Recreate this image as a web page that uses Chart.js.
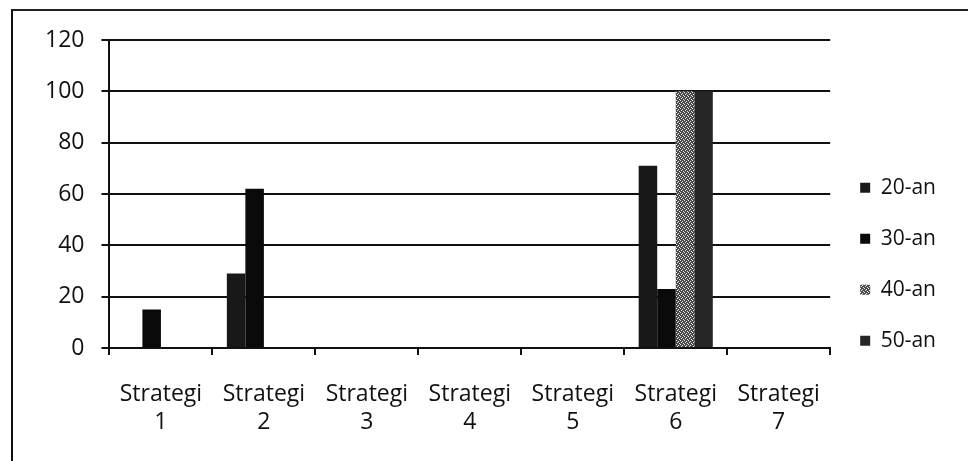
<!DOCTYPE html>
<html lang="id">
<head>
    <meta charset="UTF-8">
    <title>Grafik Strategi</title>
    <script src="https://cdn.jsdelivr.net/npm/chart.js"></script>
    <style>
        body{
            margin: 0;
            background: #ffffff;
        }
        #wrap{
            position: relative;
            width: 968px;
            height: 461px;
        }
        #frame{
            position: absolute;
            left: 11px;
            top: 9px;
            right: 0;
            bottom: 0;
            border-left: 2px solid #111;
            border-top: 2px solid #222;
            pointer-events: none;
        }
    </style>
</head>
<body>
    <div id="wrap">
        <canvas id="grafik" width="968" height="461"></canvas>
        <div id="frame"></div>
    </div>

    <script>
        // data
        const kategori = [
            ['Strategi', '1'], ['Strategi', '2'], ['Strategi', '3'], ['Strategi', '4'],
            ['Strategi', '5'], ['Strategi', '6'], ['Strategi', '7']
        ]
        const nilai20 = [0, 29, 0, 0, 0, 71, 0]
        const nilai30 = [15, 62, 0, 0, 0, 23, 0]
        const nilai40 = [0, 0, 0, 0, 0, 100, 0]
        const nilai50 = [0, 0, 0, 0, 0, 100, 0]
        const labelSeri = ['20-an', '30-an', '40-an', '50-an']
        const tickY = [0, 20, 40, 60, 80, 100, 120]

        // pola bintik abu-abu untuk 40-an
        const pc = document.createElement('canvas')
        pc.width = 4
        pc.height = 4
        const px = pc.getContext('2d')
        px.fillStyle = '#4a4a4a'
        px.fillRect(0, 0, 4, 4)
        px.fillStyle = '#e8e8e8'
        px.fillRect(0, 0, 1, 1)
        px.fillRect(2, 1, 1, 1)
        px.fillRect(1, 2, 1, 1)
        px.fillRect(3, 3, 1, 1)
        const pola40 = px.createPattern(pc, 'repeat')

        const font = "'Open Sans', 'DejaVu Sans', sans-serif"

        new Chart(document.getElementById('grafik'), {
            type: 'bar',
            data: {
                labels: kategori,
                datasets: [
                    { label: labelSeri[0], data: nilai20, backgroundColor: '#181818' },
                    { label: labelSeri[1], data: nilai30, backgroundColor: '#0a0a0a' },
                    { label: labelSeri[2], data: nilai40, backgroundColor: pola40 },
                    { label: labelSeri[3], data: nilai50, backgroundColor: '#262626' }
                ]
            },
            options: {
                responsive: false,
                animation: false,
                devicePixelRatio: 1,
                layout: {
                    padding: { left: 28, top: 40, right: 22, bottom: 0 }
                },
                datasets: {
                    bar: { categoryPercentage: 0.72, barPercentage: 1 }
                },
                plugins: {
                    tooltip: { enabled: false },
                    legend: {
                        position: 'right',
                        title: { display: true, text: '', padding: { top: 13, bottom: 0 }, font: { size: 12 } },
                        labels: {
                            boxWidth: 10,
                            boxHeight: 10,
                            padding: 30,
                            color: '#111',
                            font: { family: font, size: 21 }
                        }
                    }
                },
                scales: {
                    x: {
                        grid: {
                            display: true,
                            drawOnChartArea: false,
                            drawTicks: true,
                            tickLength: 7,
                            color: '#111',
                            lineWidth: 2
                        },
                        border: { display: true, color: '#111', width: 2 },
                        ticks: {
                            color: '#111',
                            padding: 25,
                            maxRotation: 0,
                            autoSkip: false,
                            font: { family: font, size: 23, lineHeight: 1.22 }
                        },
                        afterFit: function(scale) { scale.height = 113 }
                    },
                    y: {
                        min: 0,
                        max: 120,
                        afterBuildTicks: function(scale) {
                            scale.ticks = tickY.map(v => ({ value: v }))
                        },
                        grid: {
                            color: '#111',
                            lineWidth: 2,
                            drawTicks: true,
                            tickLength: 8
                        },
                        border: { display: true, color: '#111', width: 2 },
                        ticks: {
                            color: '#111',
                            padding: 17,
                            font: { family: font, size: 23 }
                        }
                    }
                }
            }
        })
    </script>
</body>
</html>
